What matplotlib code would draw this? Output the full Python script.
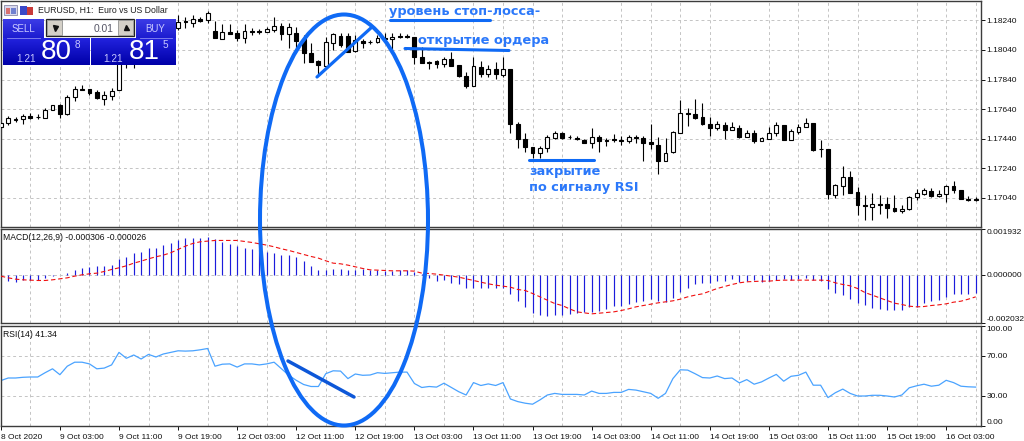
import numpy as np
import matplotlib
matplotlib.use("Agg")
import matplotlib.pyplot as plt
from matplotlib.patches import Ellipse, Rectangle

# EURUSD H1 prices in points (1e-5)
opens = [117522,117544,117569,117571,117592,117587,117583,117637,117666,117605,
         117720,117775,117774,117753,117711,117729,117769,117950,117990,118010,
         118030,118050,118070,118040,118186,118234,118220,118252,118243,118170,
         118116,118164,118152,118123,118168,118168,118164,118175,118202,118148,
         118152,118112,118022,117968,117932,118089,118134,118134,118035,118103,
         118096,118096,118119,118112,118134,118134,118130,117995,117950,117965,
         117945,117977,117939,117864,117799,117927,117876,117909,117873,117909,
         117540,117441,117384,117346,117376,117445,117481,117454,117445,117434,
         117414,117454,117432,117436,117434,117425,117452,117443,117418,117398,
         117292,117349,117481,117612,117610,117585,117542,117511,117535,117502,
         117511,117452,117477,117425,117441,117477,117535,117432,117486,117522,
         117547,117373,117373,117063,117123,117180,117078,116990,116981,116999,
         116999,116972,116952,116966,117045,117069,117090,117054,117065,117121,
         117092,117036,117033]
highs = [117556,117594,117589,117605,117612,117607,117646,117671,117675,117736,
         117796,117803,117778,117769,117765,117780,117972,118000,118040,118060,
         118090,118100,118110,118090,118276,118265,118276,118265,118306,118238,
         118215,118215,118175,118215,118186,118179,118197,118265,118220,118224,
         118193,118141,118089,117972,118130,118152,118152,118152,118141,118112,
         118107,118141,118152,118157,118157,118148,118130,118062,117965,117972,
         117995,118028,117939,117893,117995,117965,117939,117961,117990,117909,
         117556,117477,117384,117393,117465,117492,117488,117465,117459,117436,
         117510,117465,117443,117472,117459,117465,117465,117459,117538,117454,
         117443,117495,117702,117646,117709,117680,117589,117562,117553,117551,
         117533,117499,117499,117454,117517,117556,117535,117504,117538,117578,
         117547,117432,117373,117132,117256,117225,117116,117060,117076,117060,
         117049,117060,116993,117056,117099,117105,117105,117094,117128,117155,
         117094,117054,117049]
lows = [117515,117533,117553,117540,117571,117571,117583,117634,117583,117601,
        117697,117769,117736,117711,117669,117702,117769,117918,117918,117960,
        117990,118010,118000,118000,118175,118186,118197,118231,118224,118119,
        118112,118150,118101,118085,118141,118146,118159,118164,118107,118051,
        118051,117950,117957,117871,117927,118040,118062,118028,118028,118051,
        118080,118089,118103,118040,118119,118119,117945,117950,117909,117916,
        117927,117932,117860,117781,117799,117855,117855,117842,117860,117481,
        117376,117349,117308,117308,117351,117441,117441,117439,117432,117414,
        117376,117353,117393,117420,117398,117409,117409,117290,117369,117202,
        117290,117342,117477,117526,117571,117533,117459,117499,117441,117499,
        117448,117450,117409,117423,117436,117459,117432,117432,117470,117517,
        117358,117319,117031,117038,117063,117072,116925,116891,116891,116930,
        116907,116948,116936,116959,117026,117060,117049,117049,117011,117076,
        117031,117022,117022]
closes = [117549,117578,117576,117594,117583,117585,117634,117666,117607,117720,
          117778,117771,117749,117715,117734,117765,117958,117990,118010,118030,
          118050,118070,118040,118060,118231,118229,118247,118238,118292,118119,
          118159,118150,118123,118170,118164,118164,118182,118202,118148,118197,
          118103,118017,117957,117938,118096,118148,118074,118028,118107,118089,
          118092,118123,118112,118130,118128,118130,117995,117950,117961,117945,
          117977,117932,117864,117799,117934,117876,117909,117876,117909,117540,
          117439,117382,117344,117380,117450,117481,117445,117450,117436,117414,
          117454,117427,117427,117432,117425,117454,117445,117414,117403,117292,
          117342,117484,117612,117607,117580,117540,117513,117538,117502,117517,
          117450,117477,117423,117448,117477,117535,117432,117490,117522,117547,
          117364,117369,117065,117126,117180,117076,116990,116986,116999,116995,
          116972,116954,116968,117049,117072,117092,117054,117067,117119,117092,
          117036,117027,117029]

# MACD histogram and signal in 1e-6
macd_hist = [-98,-267,-295,-239,-239,-225,-127,-56,-14,84,
             211,295,338,366,380,408,647,760,915,957,
             1112,1140,1266,1351,1449,1534,1562,1562,1604,1491,
             1379,1309,1196,1140,1069,1027,943,900,844,844,
             732,563,366,211,211,239,253,183,183,225,
             211,211,155,155,197,211,127,14,-127,-267,
             -239,-338,-408,-549,-549,-577,-577,-549,-549,-802,
             -1112,-1337,-1590,-1702,-1731,-1702,-1702,-1646,-1604,-1562,
             -1562,-1505,-1421,-1323,-1309,-1224,-1154,-1112,-999,-1112,
             -1126,-957,-718,-549,-408,-366,-338,-267,-253,-197,
             -295,-267,-239,-295,-267,-225,-197,-211,-197,-155,
             -225,-267,-605,-760,-872,-999,-1182,-1294,-1379,-1421,
             -1463,-1491,-1463,-1365,-1351,-1182,-1112,-1041,-915,-830,
             -830,-788,-760]
macd_signal = [-56,-127,-183,-211,-225,-239,-239,-211,-169,-127,
               -56,0,42,70,141,225,295,380,492,577,
               675,760,830,929,1069,1210,1323,1393,1421,1449,
               1449,1449,1449,1407,1365,1309,1252,1182,1097,1027,
               943,858,774,704,591,492,464,408,338,267,
               211,197,183,169,169,169,155,70,56,28,
               -14,-56,-98,-169,-239,-310,-380,-436,-478,-521,
               -619,-661,-788,-929,-1069,-1210,-1294,-1435,-1562,-1604,
               -1646,-1618,-1590,-1562,-1505,-1435,-1351,-1294,-1238,-1182,
               -1140,-1097,-1027,-929,-858,-802,-689,-577,-492,-408,
               -338,-295,-281,-267,-267,-239,-225,-225,-225,-225,
               -225,-225,-239,-338,-408,-464,-577,-746,-858,-971,
               -1083,-1196,-1252,-1323,-1351,-1337,-1294,-1266,-1224,-1154,
               -1112,-1027,-929]

rsi = [45.4,48.0,48.0,48.7,49.0,49.0,53.3,57.2,51.3,59.8,
       63.8,63.8,62.1,57.2,57.9,61.1,73.6,67.7,71.0,67.0,
       71.6,69.0,72.0,73.6,75.2,74.9,75.2,76.2,77.5,59.8,
       61.8,62.1,58.9,62.1,62.1,61.1,62.1,63.8,57.2,50.7,
       45.7,41.5,39.5,39.5,52.3,55.2,54.9,47.4,52.0,50.7,
       51.0,53.3,52.6,53.3,53.9,53.9,42.5,38.5,39.5,38.9,
       42.8,38.5,34.3,31.0,43.4,40.5,42.1,40.5,43.4,27.0,
       24.4,22.8,21.8,26.1,31.0,32.6,31.6,31.6,31.6,31.0,
       34.9,32.6,32.6,33.6,33.6,36.6,35.9,34.3,32.6,27.7,
       32.6,47.4,56.2,55.9,52.3,48.4,48.0,50.0,47.4,48.0,
       43.1,46.4,41.8,44.1,48.0,51.6,44.8,49.7,50.7,53.9,
       40.8,40.8,28.4,33.3,36.9,32.6,30.0,30.0,30.7,30.7,
       30.0,29.0,31.0,38.2,40.2,41.8,39.8,40.8,45.7,43.4,
       39.8,39.2,38.9]

time_labels = ["8 Oct 2020", "9 Oct 03:00", "9 Oct 11:00", "9 Oct 19:00",
               "12 Oct 03:00", "12 Oct 11:00", "12 Oct 19:00", "13 Oct 03:00",
               "13 Oct 11:00", "13 Oct 19:00", "14 Oct 03:00", "14 Oct 11:00",
               "14 Oct 19:00", "15 Oct 03:00", "15 Oct 11:00", "15 Oct 19:00",
               "16 Oct 03:00"]
price_ticks = [1.18240, 1.18040, 1.17840, 1.17640, 1.17440, 1.17240, 1.17040]
macd_ticks = [0.001932, 0.0, -0.002032]
macd_labels = ["0.001932", "0.000000", "-0.002032"]
rsi_ticks = [100, 70, 30, 0]
rsi_labels = ["100.00", "70.00", "30.00", "0.00"]

W, H = 1024, 441
FONT = "Liberation Sans"
plt.rcParams["font.family"] = FONT
TXT = 6.0
GRID = "#c4c4c4"
FRAME = "#3c3c3c"

fig = plt.figure(figsize=(W / 100, H / 100), dpi=100, facecolor="white")


def panel(top, bottom):
    ax = fig.add_axes([0.0005, 1 - bottom / H, 980 / W, (bottom - top) / H])
    ax.set_xlim(-0.04, 132.65)
    ax.set_xticks(np.arange(0, 133, 4), minor=True)
    ax.grid(True, which="minor", axis="x", color=GRID, lw=0.7, ls=(0, (3, 3)))
    ax.grid(True, which="major", axis="y", color=GRID, lw=0.7, ls=(0, (3, 3)))
    ax.set_axisbelow(True)
    ax.tick_params(axis="x", which="both", length=0, labelbottom=False)
    ax.yaxis.tick_right()
    ax.tick_params(axis="y", length=3, width=0.7, pad=1.5, labelsize=TXT,
                   colors="#111111")
    for s in ax.spines.values():
        s.set_color(FRAME)
        s.set_linewidth(1.0)
    return ax


x = np.arange(len(closes))
o = np.array(opens) / 1e5
h = np.array(highs) / 1e5
l = np.array(lows) / 1e5
c = np.array(closes) / 1e5

# price panel
ax1 = panel(1, 227)
ax1.set_ylim(1.16844, 1.18371)
ax1.vlines(x, l, h, color="black", lw=0.8, zorder=2)
up = c >= o
ax1.bar(x[up], (c - o)[up], bottom=o[up], width=0.52, facecolor="white",
        edgecolor="black", lw=0.8, zorder=3)
ax1.bar(x[~up], (c - o)[~up], bottom=o[~up], width=0.52, facecolor="black",
        edgecolor="black", lw=0.8, zorder=3)
ax1.set_yticks(price_ticks, [f"{p:.5f}" for p in price_ticks])

# macd panel
ax2 = panel(229, 323)
ax2.set_ylim(-0.002032, 0.001932)
ax2.vlines(x, 0, np.array(macd_hist) / 1e6, color="#1c1cdc", lw=0.85, zorder=2)
ax2.plot(x, np.array(macd_signal) / 1e6, color="#f01010", lw=0.8,
         ls=(0, (4, 2.5)), zorder=3)
ax2.set_yticks(macd_ticks, macd_labels)
ax2.get_yticklabels()[0].set_va("top")
ax2.get_yticklabels()[2].set_va("bottom")

# rsi panel
ax3 = panel(326, 426)
ax3.set_ylim(0, 100)
ax3.plot(x, rsi, color="#4aa3ff", lw=0.9, zorder=2)
ax3.set_yticks(rsi_ticks, rsi_labels)
ax3.get_yticklabels()[0].set_va("top")
ax3.get_yticklabels()[3].set_va("bottom")
ax3.set_xticks(np.arange(0, 133, 8), time_labels)
ax3.tick_params(axis="x", which="major", length=3, width=0.7, labelbottom=True,
                labelsize=TXT, pad=2.5, colors="#111111")
for t in ax3.get_xticklabels():
    t.set_ha("left")

# overlay in pixel coordinates for the terminal widgets and hand notes
ov = fig.add_axes([0, 0, 1, 1], zorder=10, facecolor="none")
ov.set_xlim(0, W)
ov.set_ylim(H, 0)
ov.axis("off")

BLUE = "#0f6af5"
ov.add_patch(Ellipse((344, 220), 168, 411, fill=False, ec=BLUE, lw=2.9))
ov.plot([317, 372], [77, 27], color=BLUE, lw=2.3, solid_capstyle="round")
ov.plot([288, 354], [361, 397], color="#0d57d8", lw=2.5, solid_capstyle="round")
ov.plot([390, 490], [20, 20], color=BLUE, lw=2.2, solid_capstyle="round")
ov.plot([405, 509], [48.5, 50.5], color=BLUE, lw=2.2, solid_capstyle="round")
ov.plot([529, 594], [160, 160], color=BLUE, lw=2.2, solid_capstyle="round")
NOTE = dict(family="DejaVu Sans", weight="bold", size=9.25, color="#2b78fa", va="center")
ov.text(389, 11, "уровень стоп-лосса-", **NOTE)
ov.text(418, 40.5, "открытие ордера", **NOTE)
ov.text(529, 172, "закрытие", **NOTE)
ov.text(529, 187, "по сигналу RSI", **NOTE)


def gradient(x0, y0, x1, y1, top, bottom):
    rgb0 = np.array(matplotlib.colors.to_rgb(top))
    rgb1 = np.array(matplotlib.colors.to_rgb(bottom))
    t = np.linspace(0, 1, 32)[:, None, None]
    img = rgb0[None, None, :] * (1 - t) + rgb1[None, None, :] * t
    ov.imshow(img, extent=(x0, x1, y1, y0), aspect="auto", zorder=4,
              interpolation="bilinear")


# trade panel
ov.add_patch(Rectangle((3, 4), 172, 15, fc="white", ec="none", zorder=3))
ov.add_patch(Rectangle((4, 5), 13, 10, fc="#d8d8ee", ec="#8a8aa8", lw=0.6, zorder=5))
ov.add_patch(Rectangle((6, 8), 4, 6, fc="#d87070", ec="none", zorder=6))
ov.add_patch(Rectangle((11, 8), 5, 6, fc="#7080d0", ec="none", zorder=6))
ov.add_patch(Rectangle((20, 6), 7, 9, fc="#3a48c8", ec="none", zorder=5))
ov.add_patch(Rectangle((27, 7), 6, 8, fc="#c83a3a", ec="none", zorder=5))
ov.text(38, 10, "EURUSD, H1:  Euro vs US Dollar", fontsize=6.3, va="center",
        color="#222222", zorder=6)

gradient(3, 19, 44, 38, "#3c3ce6", "#1c1cd0")
gradient(136, 19, 176, 38, "#3c3ce6", "#1c1cd0")
gradient(3, 38, 90, 65, "#2222de", "#0000a8")
gradient(91, 38, 176, 65, "#2222de", "#0000a8")
ov.plot([7, 40], [38, 38], color="#8888ee", lw=0.6, zorder=5)
ov.plot([140, 172], [38, 38], color="#8888ee", lw=0.6, zorder=5)
ov.add_patch(Rectangle((46, 19), 88, 17, fc="white", ec="#222222", lw=0.9, zorder=5))
ov.add_patch(Rectangle((47, 20), 15, 15, fc="#d4d0c8", ec="#808080", lw=0.5, zorder=6))
ov.add_patch(Rectangle((118, 20), 15, 15, fc="#d4d0c8", ec="#808080", lw=0.5, zorder=6))
ov.plot([55], [28], marker="v", ms=3.6, color="#111111", zorder=7)
ov.plot([125.5], [27], marker="^", ms=3.6, color="#111111", zorder=7)
ov.text(113, 28.5, "0.01", ha="right", va="center", fontsize=7.4, color="#555566", zorder=7)
ov.text(23, 29.5, "SELL", ha="center", va="center", fontsize=7, color="#c8c8ff", zorder=7)
ov.text(155, 29.5, "BUY", ha="center", va="center", fontsize=7, color="#c8c8ff", zorder=7)
ov.text(16, 59, "1.21", va="center", fontsize=7.2, color="#c8c8ff", zorder=7)
ov.text(103, 59, "1.21", va="center", fontsize=7.2, color="#c8c8ff", zorder=7)
ov.text(41, 52, "80", va="center", fontsize=20, color="white", zorder=7)
ov.text(128.5, 52, "81", va="center", fontsize=20, color="white", zorder=7)
ov.text(75, 45, "8", va="center", fontsize=7.2, color="#c8c8ff", zorder=7)
ov.text(163, 45, "5", va="center", fontsize=7.2, color="#c8c8ff", zorder=7)

# indicator captions
ov.text(3, 237.5, "MACD(12,26,9) -0.000306 -0.000026", fontsize=6.25, va="center", color="#111111")
ov.text(3, 334.5, "RSI(14) 41.34", fontsize=6.25, va="center", color="#111111")

fig.savefig("out.png", dpi=100)
